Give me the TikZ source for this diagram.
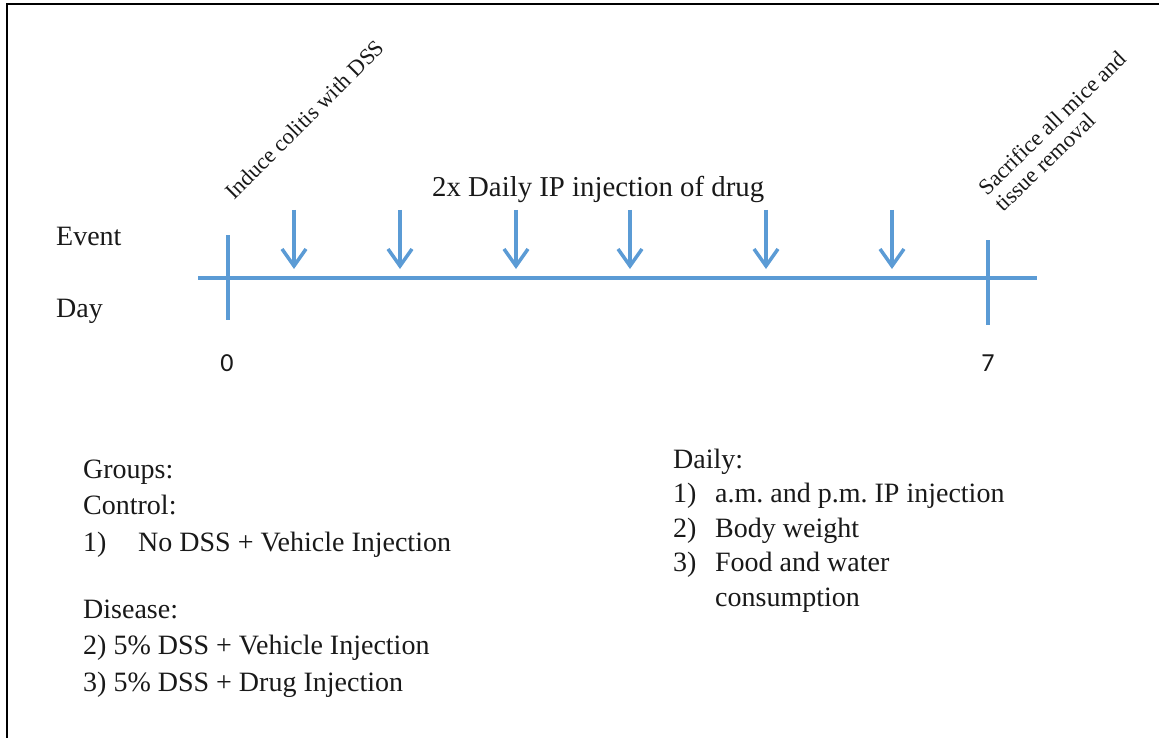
\documentclass[tikz,border=0pt]{standalone}
\usepackage{fontspec}
\setmainfont{Liberation Serif}
\newfontfamily\digitfont{Carlito}
\usetikzlibrary{arrows.meta}
\definecolor{tlblue}{RGB}{91,155,213}
\definecolor{txt}{RGB}{25,25,25}
\frenchspacing
\begin{document}
\begin{tikzpicture}[x=1pt,y=-1pt,
  bigtext/.style={inner sep=0pt,text=txt,font=\fontsize{28}{34}\selectfont},
  smalltext/.style={inner sep=0pt,text=txt,font=\fontsize{22.5}{23}\selectfont},
  daynum/.style={inner sep=0pt,text=txt,font=\digitfont\fontsize{26}{30}\selectfont},
  axisline/.style={draw=tlblue,line width=4.5pt},
  tickline/.style={draw=tlblue,line width=3.5pt},
  injarrow/.style={draw=tlblue,line width=3.5pt,-{Straight Barb[length=17pt,width=24pt]}}]
\useasboundingbox (0,0) rectangle (1159,738);
\draw[line width=2pt,black] (7,4) rectangle (1175,760);
% timeline
\coordinate (tlstart) at (198,278);
\coordinate (tlend) at (1037,278);
\draw[axisline] (tlstart) -- (tlend);
\coordinate (t0top) at (228,235);
\coordinate (t0bot) at (228,320);
\coordinate (t7top) at (988,240);
\coordinate (t7bot) at (988,325);
\draw[tickline] (t0top) -- (t0bot);
\draw[tickline] (t7top) -- (t7bot);
% injection arrows
\foreach \i/\x in {1/294,2/400,3/516,4/630,5/766,6/892}{
  \coordinate (a\i s) at (\x,210);
  \coordinate (a\i e) at (\x,269);
  \draw[injarrow] (a\i s) -- (a\i e);
}
% labels
\node[bigtext,anchor=base west] (event) at (56,245) {Event};
\node[bigtext,anchor=base west] (day) at (56,317) {Day};
\node[bigtext,anchor=base west,font=\fontsize{28.8}{34}\selectfont] (inj) at (432,197) {2x Daily IP injection of drug};
\node[daynum,anchor=base] (d0) at (227,371) {0};
\node[daynum,anchor=base] (d7) at (988,371) {7};
\node[smalltext,anchor=base west,rotate=45] (induce) at (234,201) {Induce colitis with DSS};
\node[smalltext,anchor=base west,rotate=44,align=left] (sacr) at (1003,213) {Sacrifice all mice and\\tissue removal};
% groups
\node[bigtext,anchor=base west,align=left,font=\fontsize{28}{36.5}\selectfont] (groups) at (83,691)
  {Groups:\\Control:\\\makebox[55pt][l]{1)}No DSS + Vehicle Injection\\[30.5pt]Disease:\\2) 5\% DSS + Vehicle Injection\\3) 5\% DSS + Drug Injection};
\node[bigtext,anchor=base west,align=left,font=\fontsize{28}{34.5}\selectfont] (daily) at (673,606)
  {Daily:\\\makebox[42pt][l]{1)}a.m. and p.m. IP injection\\\makebox[42pt][l]{2)}Body weight\\\makebox[42pt][l]{3)}Food and water\\\hspace*{42pt}consumption};
\end{tikzpicture}
\end{document}
